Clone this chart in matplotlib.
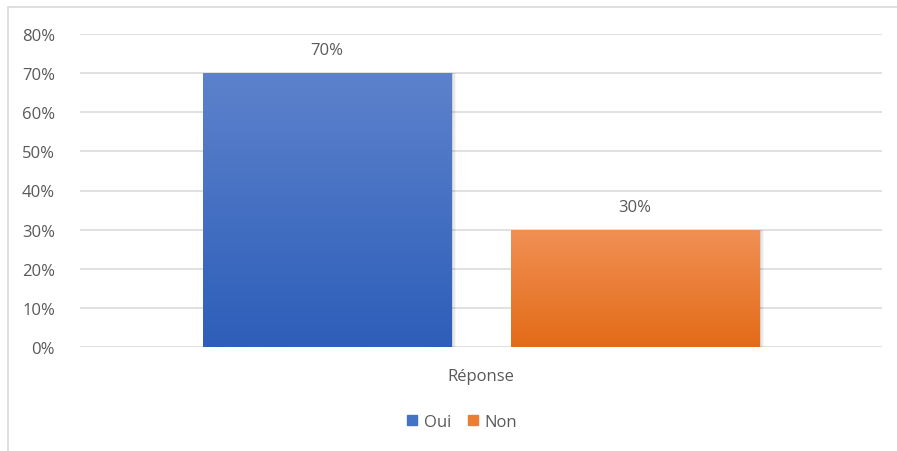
import numpy as np
import matplotlib.pyplot as plt
from matplotlib.patches import Rectangle
from matplotlib.colors import LinearSegmentedColormap

plt.rcParams['font.family'] = ['Open Sans', 'DejaVu Sans']

# Data
category = 'Réponse'
series = ['Oui', 'Non']
values = [70, 30]
yticks = [0, 10, 20, 30, 40, 50, 60, 70, 80]

top_colors = ['#5D82CC', '#F19055']
bottom_colors = ['#2D5EB9', '#E36B17']
legend_colors = ['#4472C4', '#ED7D31']
text_color = '#595959'

W, H = 897, 452
fig = plt.figure(figsize=(W / 100, H / 100), dpi=100)

# chart border (right and bottom run off the picture)
fig.patches.append(Rectangle((8 / W, -0.1), 1.2, 1 - 8 / H + 0.1, transform=fig.transFigure,
                             fill=False, edgecolor='#D9D9D9', linewidth=1.2))

ax = fig.add_axes([80 / W, 1 - 348 / H, (882 - 80) / W, (348 - 35) / H])
ax.set_xlim(0, 1)
ax.set_ylim(0, 80)

for s in ax.spines.values():
    s.set_visible(False)
ax.set_yticks(yticks)
ax.set_yticklabels([f'{t}%' for t in yticks])
ax.tick_params(axis='y', length=0, pad=18, labelsize=12, labelcolor=text_color)
ax.set_xticks([])
ax.yaxis.grid(True, color='#D9D9D9', linewidth=1.1)
ax.set_axisbelow(True)

width = 0.31
centers = [0.5 - 0.192, 0.5 + 0.192]

for i, (name, v) in enumerate(zip(series, values)):
    x0 = centers[i] - width / 2
    # soft shadow on right
    for k, a in enumerate([0.10, 0.06, 0.03]):
        ax.add_patch(Rectangle((x0 + width, 0), 0.002 * (k + 1), v, color='black',
                               alpha=a, linewidth=0, zorder=2))
    bar = ax.bar(centers[i], v, width=width, color='none', zorder=3)[0]
    cmap = LinearSegmentedColormap.from_list(name, [bottom_colors[i], top_colors[i]])
    grad = np.linspace(0, 1, 256).reshape(-1, 1)
    im = ax.imshow(grad, cmap=cmap, origin='lower', aspect='auto',
                   extent=(x0, x0 + width, 0, v), zorder=3)
    im.set_clip_path(bar)
    ax.text(centers[i], v + 5.9, f'{v}%', ha='center', va='center',
            fontsize=12, color=text_color)

ax.set_xlim(0, 1)
ax.set_ylim(0, 80)

fig.text(481 / W, 1 - 377 / H, category, ha='center', va='center', fontsize=12, color=text_color)

handles = [Rectangle((0, 0), 1, 1, color=c) for c in legend_colors]
fig.legend(handles, series, loc='center', bbox_to_anchor=(462 / W, 1 - 423 / H), ncol=2,
           frameon=False, fontsize=12, labelcolor=text_color, handlelength=0.6,
           handleheight=0.6, handletextpad=0.4, columnspacing=1.0)

fig.savefig('out.png', dpi=100)
